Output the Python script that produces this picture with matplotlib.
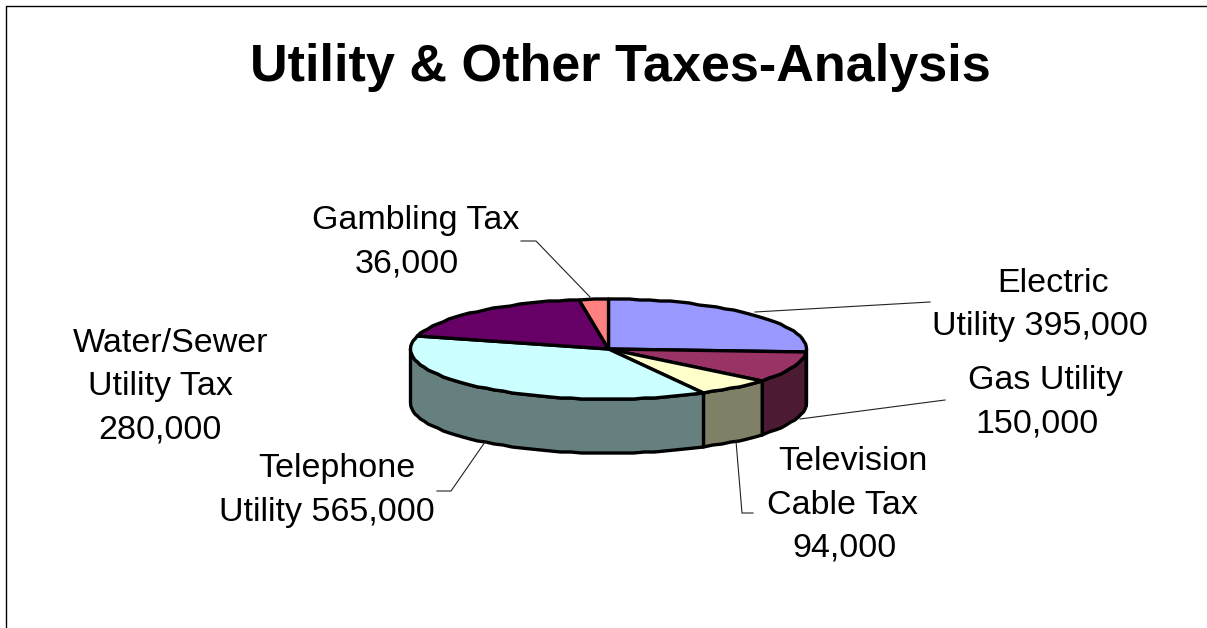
import numpy as np
import matplotlib
matplotlib.use('Agg')
import matplotlib.pyplot as plt
from matplotlib.patches import Polygon

categories = ['Electric Utility', 'Gas Utility', 'Television Cable Tax',
              'Telephone Utility', 'Water/Sewer Utility Tax', 'Gambling Tax']
values = [395000, 150000, 94000, 565000, 280000, 36000]
top_colors = ['#9999FF', '#993366', '#FFFFCC', '#CCFFFF', '#660066', '#FF8080']
side_colors = ['#4C4C80', '#4D1A33', '#808066', '#668080', '#330033', '#804040']

plt.rcParams['font.family'] = ['Liberation Sans', 'DejaVu Sans']

# pie geometry, in pixels
cx, cy = 608.5, 349
rx, ry = 198, 50
depth = 54
STEP = 3.0  # the rim is a coarse polyline


def rim(a0, a1, dy=0):
    # a is degrees clockwise from the top of the pie
    n = max(int(abs(a1 - a0) / STEP), 1)
    a = np.radians(np.linspace(a0, a1, n + 1))
    xs = cx + rx * np.sin(a)
    ys = cy - ry * np.cos(a) + dy
    # snap to whole pixels, gives the slightly stepped outline
    return np.column_stack([xs, np.round(ys)])


fig = plt.figure(figsize=(12.07, 6.28), dpi=100)
ax = fig.add_axes([0, 0, 1, 1])
ax.set_xlim(0, 1207)
ax.set_ylim(628, 0)
ax.axis('off')

# page border, only top and left fall inside the canvas
ax.plot([6, 6, 1207], [628, 5.5, 5.5], color='black', lw=1.0)

edges = np.cumsum([0] + values) / sum(values) * 360

# side walls first, only the front half shows
for i in range(len(values)):
    a0 = max(edges[i], 90)
    a1 = min(edges[i + 1], 270)
    if a1 <= a0:
        continue
    upper = rim(a0, a1)
    lower = rim(a1, a0, depth)
    ax.add_patch(Polygon(np.vstack([upper, lower]), closed=True,
                         facecolor=side_colors[i], edgecolor='black',
                         lw=2.4, joinstyle='round'))

# top face
for i in range(len(values)):
    pts = np.vstack([[cx, cy], rim(edges[i], edges[i + 1])])
    ax.add_patch(Polygon(pts, closed=True, facecolor=top_colors[i],
                         edgecolor='black', lw=2.4, joinstyle='round'))

# leader lines
leaders = [
    ([930, 755], [302, 312]),
    ([945, 800], [400, 419]),
    ([753, 742, 736], [513, 513, 441]),
    ([437, 451, 485], [491, 491, 442]),
    ([521, 536, 590], [241, 241, 297]),
]
for xs, ys in leaders:
    ax.plot(xs, ys, color='#222222', lw=0.8, zorder=1)

ax.text(620.5, 68, 'Utility & Other Taxes-Analysis', fontsize=37.5,
        fontweight='bold', ha='center', va='center')

val = [f'{v:,}' for v in values]
label_lines = [
    ('Electric', 1053, 283),
    ('Utility ' + val[0], 1040, 326),
    ('Gas Utility', 1045, 380),
    (val[1], 1037, 424),
    ('Television', 853, 461),
    ('Cable Tax', 842, 505),
    (val[2], 844, 548),
    ('Telephone', 337, 469),
    ('Utility ' + val[3], 327, 512),
    ('Water/Sewer', 171, 343),
    ('Utility Tax', 160, 387),
    (val[4], 160, 430),
    ('Gambling Tax', 416, 221),
    (val[5], 407, 264),
]
for s, x, y in label_lines:
    ax.text(x, y, s, fontsize=24.5, ha='center', va='center')

fig.savefig('out.png', dpi=100)
